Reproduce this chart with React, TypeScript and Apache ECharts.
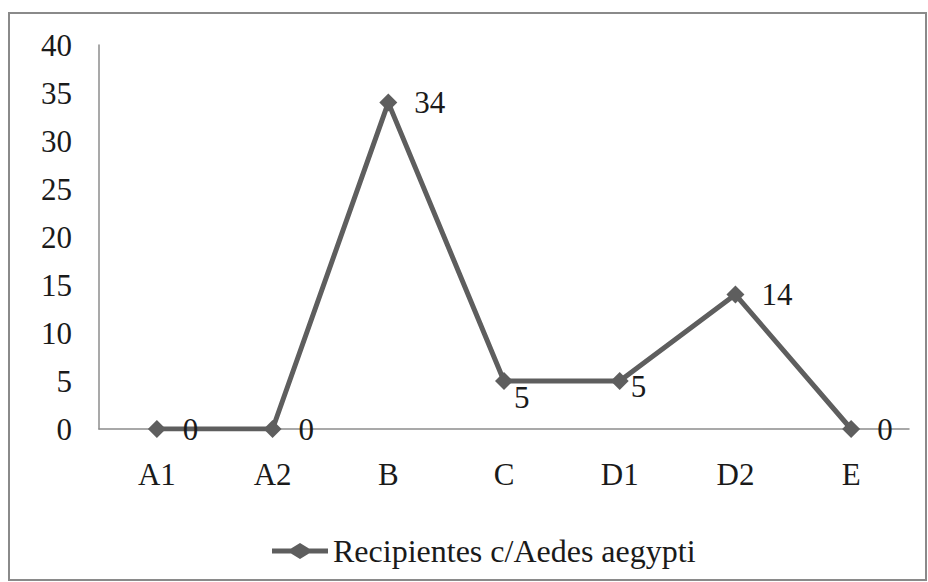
import React, { useEffect, useRef } from "react";
import * as echarts from "echarts";

const categories = ["A1", "A2", "B", "C", "D1", "D2", "E"];
const values = [0, 0, 34, 5, 5, 14, 0];
const seriesName = "Recipientes c/Aedes aegypti";
const labelOffsets: number[][] = [[0, 0], [0, 0], [0, 0], [-16, 16], [-15, 5], [0, 0], [0, 0]];

export default function App() {
  const ref = useRef<HTMLDivElement>(null);
  useEffect(() => {
    const chart = echarts.init(ref.current!, null, { renderer: "svg" });
    const font = "Times New Roman, Liberation Serif, DejaVu Serif, serif";
    const fs = 31;
    chart.setOption({
      animation: false,
      backgroundColor: "#ffffff",
      textStyle: { fontFamily: font },
      graphic: [
        {
          type: "rect",
          shape: { x: 9, y: 13, width: 917, height: 567 },
          style: { fill: "none", stroke: "#8a8a8a", lineWidth: 2 },
          silent: true,
        },
      ],
      grid: { left: 99, right: 19, top: 45, bottom: 153, containLabel: false },
      legend: {
        top: 530,
        left: 267,
        itemWidth: 56,
        itemHeight: 16,
        itemGap: 4,
        textStyle: { fontFamily: font, fontSize: 32, color: "#1a1a1a" },
        data: [
          {
            name: seriesName,
            icon: "path://M0,5.5 L19,5.5 L28,0 L37,5.5 L56,5.5 L56,10.5 L37,10.5 L28,16 L19,10.5 L0,10.5 Z",
          },
        ],
      },
      xAxis: {
        type: "category",
        data: categories,
        boundaryGap: true,
        axisLine: { lineStyle: { color: "#8c8c8c", width: 1.5 } },
        axisTick: { show: false },
        axisLabel: { fontFamily: font, fontSize: fs, color: "#1a1a1a", margin: 30 },
      },
      yAxis: {
        type: "value",
        min: 0,
        max: 40,
        interval: 5,
        axisLine: { show: true, lineStyle: { color: "#8c8c8c", width: 1.5 } },
        axisTick: { show: false },
        splitLine: { show: false },
        axisLabel: { fontFamily: font, fontSize: fs, color: "#1a1a1a", margin: 27 },
      },
      series: [
        {
          name: seriesName,
          type: "line",
          data: values.map((v, i) => ({
            value: v,
            label: { offset: labelOffsets[i] },
          })),
          symbol: "diamond",
          symbolSize: 18,
          lineStyle: { color: "#5e5e5e", width: 5 },
          itemStyle: { color: "#5e5e5e" },
          label: {
            show: true,
            position: "right",
            distance: 17,
            fontFamily: font,
            fontSize: fs,
            color: "#1a1a1a",
          },
        },
      ],
    });
    return () => chart.dispose();
  }, []);
  return (
    <div
      ref={ref}
      style={{ position: "fixed", left: 0, top: 0, width: 928, height: 582 }}
    />
  );
}
